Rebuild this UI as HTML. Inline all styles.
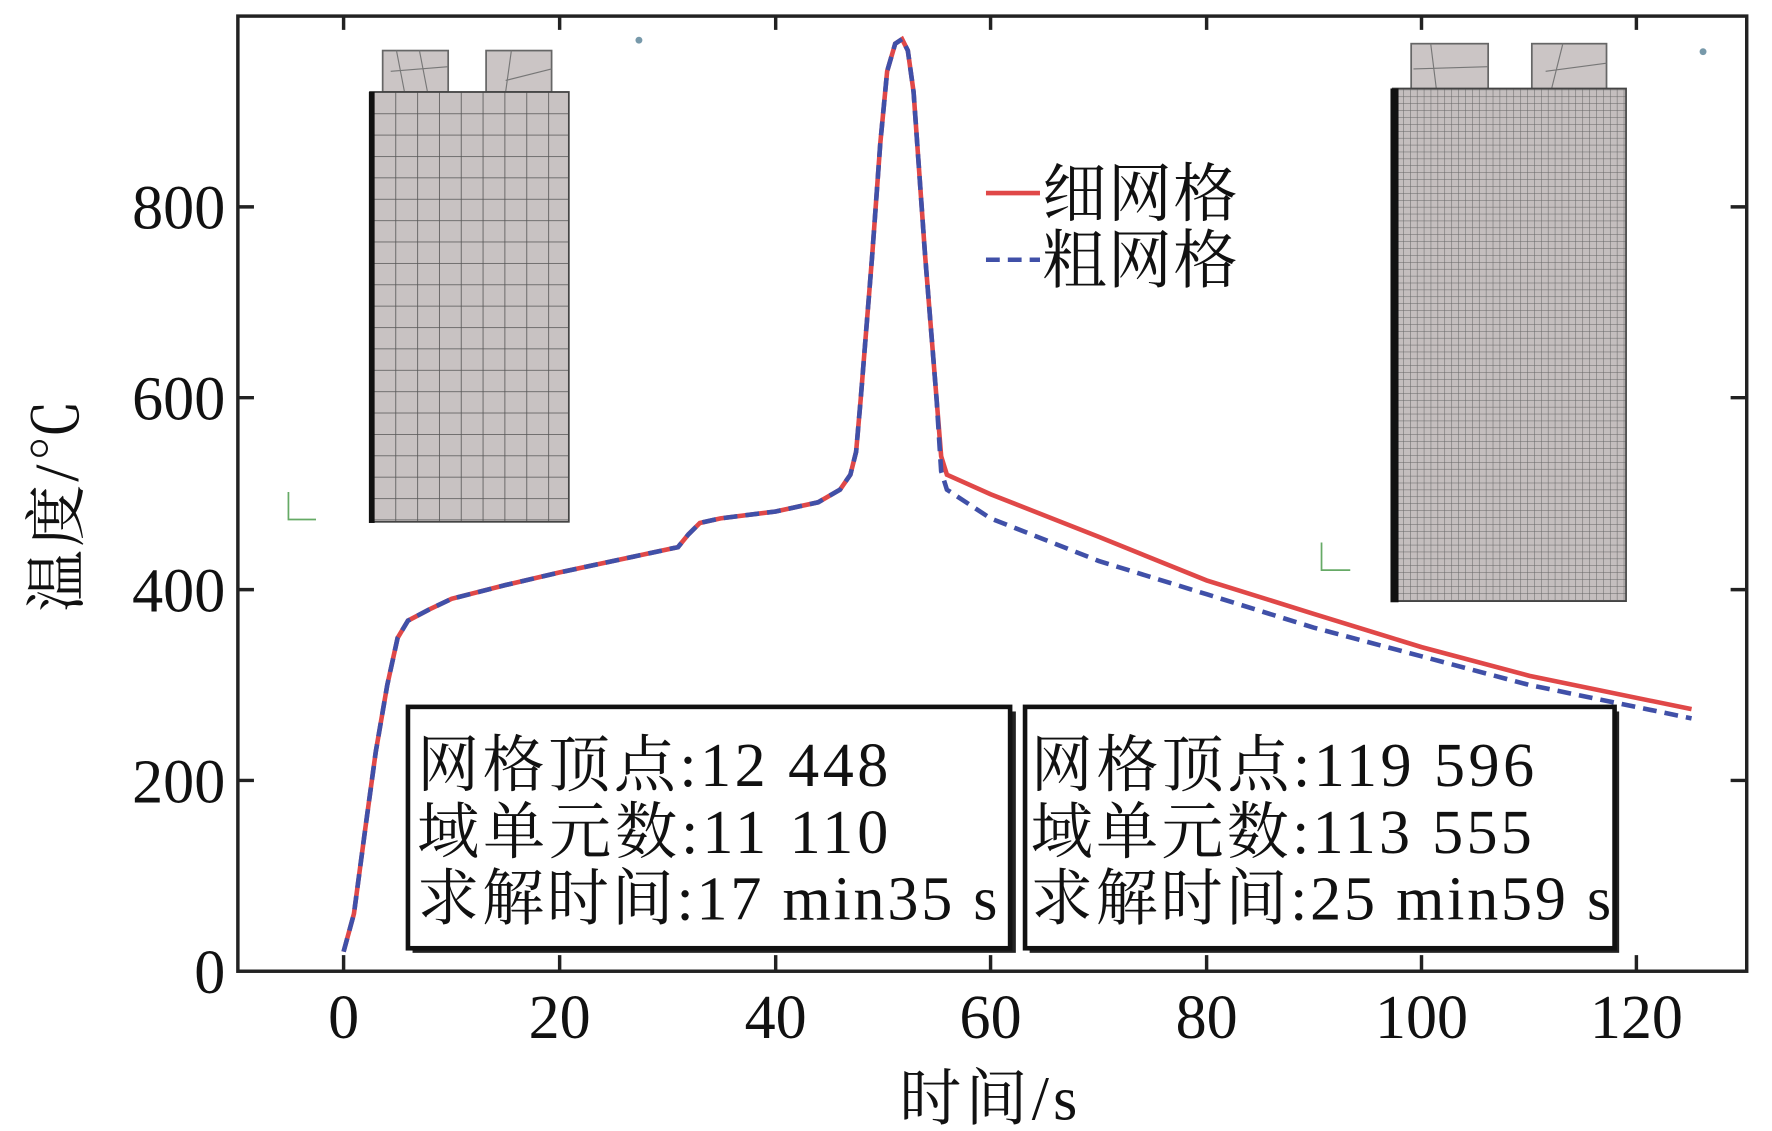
<!DOCTYPE html>
<html><head><meta charset="utf-8"><style>
html,body{margin:0;padding:0;background:#fff;}
svg{display:block;}
text{font-family:"Liberation Serif","Noto Serif CJK SC",serif;fill:#111;}
</style></head><body>
<svg width="1772" height="1131" viewBox="0 0 1542 984" preserveAspectRatio="none" xmlns="http://www.w3.org/2000/svg">
<defs>
<pattern id="g1" x="325" y="80" width="19" height="18.6" patternUnits="userSpaceOnUse">
<rect width="19" height="18.6" fill="#c8c2c2"/><path d="M0 0H19M0 0V18.6" stroke="#555" stroke-width="1.4"/></pattern>
<pattern id="g2" x="1215" y="78" width="6" height="6" patternUnits="userSpaceOnUse">
<rect width="6" height="6" fill="#c4bebe"/><path d="M0 0H6M0 0V6" stroke="#666" stroke-width="0.9"/></pattern>
</defs>
<rect width="1542" height="984" fill="#fff"/>
<rect x="333" y="44" width="57" height="36" fill="#cbc5c5" stroke="#666" stroke-width="1.5"/>
<path d="M345 44L352 80M340 62L390 58M365 44L372 80" stroke="#777" fill="none"/>
<rect x="423" y="44" width="57" height="36" fill="#cbc5c5" stroke="#666" stroke-width="1.5"/>
<path d="M440 80L445 44M440 70L480 60" stroke="#777" fill="none"/>
<rect x="322" y="80" width="173" height="374" fill="url(#g1)" stroke="#444" stroke-width="1.5"/>
<rect x="321" y="80" width="5" height="375" fill="#111"/>
<rect x="1228" y="38" width="67" height="40" fill="#cbc5c5" stroke="#666" stroke-width="1.5"/>
<path d="M1245 38L1250 78M1230 60L1295 58" stroke="#777" fill="none"/>
<rect x="1333" y="38" width="65" height="40" fill="#cbc5c5" stroke="#666" stroke-width="1.5"/>
<path d="M1350 78L1360 38M1345 62L1398 55" stroke="#777" fill="none"/>
<rect x="1212" y="77" width="203" height="446" fill="url(#g2)" stroke="#444" stroke-width="1.5"/>
<rect x="1210" y="77" width="7" height="447" fill="#111"/>
<circle cx="556" cy="35" r="3" fill="#79a"/><circle cx="1482" cy="45" r="3" fill="#79a"/>
<path d="M251 428V452H275" stroke="#6a6" stroke-width="1.5" fill="none"/>
<path d="M1150 472V496H1175" stroke="#6a6" stroke-width="1.5" fill="none"/>
<rect x="207" y="14" width="1313" height="831" fill="none" stroke="#222" stroke-width="3"/>
<g stroke="#222" stroke-width="3">
<path d="M299 845v-14M487 845v-14M675 845v-14M862 845v-14M1050 845v-14M1237 845v-14M1424 845v-14"/>
<path d="M299 14v12M487 14v12M675 14v12M862 14v12M1050 14v12M1237 14v12M1424 14v12"/>
<path d="M207 679h14M207 513h14M207 346h14M207 180h14M1520 679h-14M1520 513h-14M1520 346h-14M1520 180h-14"/>
</g>
<g font-size="54" text-anchor="end">
<text x="196" y="864">0</text><text x="196" y="698">200</text><text x="196" y="532">400</text><text x="196" y="365">600</text><text x="196" y="199">800</text>
</g>
<g font-size="54" text-anchor="middle">
<text x="299" y="903">0</text><text x="487" y="903">20</text><text x="675" y="903">40</text><text x="862" y="903">60</text><text x="1050" y="903">80</text><text x="1237" y="903">100</text><text x="1424" y="903">120</text>
<text x="860" y="974" textLength="155">时间/s</text>
<text transform="translate(68,440) rotate(-90)" textLength="185">温度/℃</text>
</g>
<path fill="none" stroke="#e04848" stroke-width="4" d="M299 828 L308 795 L318 720 L327 654 L337 596 L346 555 L355 540 L374 530 L393 521 L440 509 L487 498 L534 488 L562 482 L590 476 L599 465 L609 455 L627 451 L675 445 L712 437 L731 426 L740 413 L745 393 L749 347 L759 222 L766 125 L772 62 L779 38 L785 34 L790 44 L795 80 L805 222 L815 347 L819 397 L824 413 L862 430 L956 467 L1050 505 L1143 534 L1237 563 L1331 588 L1472 617"/>
<path fill="none" stroke="#4050a8" stroke-width="4" stroke-dasharray="12 7" d="M299 828 L308 795 L318 720 L327 654 L337 596 L346 555 L355 540 L374 530 L393 521 L440 509 L487 498 L534 488 L562 482 L590 476 L599 465 L609 455 L627 451 L675 445 L712 437 L731 426 L740 413 L745 393 L749 347 L759 222 L766 125 L772 62 L779 38 L785 34 L790 44 L795 80 L805 222 L815 347 L819 410 L824 426 L862 451 L956 488 L1050 517 L1143 546 L1237 571 L1331 596 L1472 625"/>
<path d="M858 168H905" stroke="#e04848" stroke-width="4"/>
<path d="M858 226H905" stroke="#4050a8" stroke-width="4" stroke-dasharray="12 7"/>
<g font-size="56"><text x="907" y="188" textLength="170">细网格</text><text x="907" y="246" textLength="170">粗网格</text></g>
<rect x="359" y="619" width="525" height="210" fill="#222"/>
<rect x="355" y="615" width="524" height="210" fill="#fff" stroke="#111" stroke-width="4"/>
<rect x="896" y="619" width="513" height="210" fill="#222"/>
<rect x="892" y="615" width="513" height="210" fill="#fff" stroke="#111" stroke-width="4"/>
<g font-size="54">
<text x="363" y="684" textLength="410">网格顶点:12 448</text><text x="363" y="742" textLength="410">域单元数:11 110</text><text x="363" y="800" textLength="505">求解时间:17 min35 s</text>
<text x="897" y="684" textLength="438">网格顶点:119 596</text><text x="897" y="742" textLength="436">域单元数:113 555</text><text x="897" y="800" textLength="505">求解时间:25 min59 s</text>
</g>
</svg>
</body></html>
